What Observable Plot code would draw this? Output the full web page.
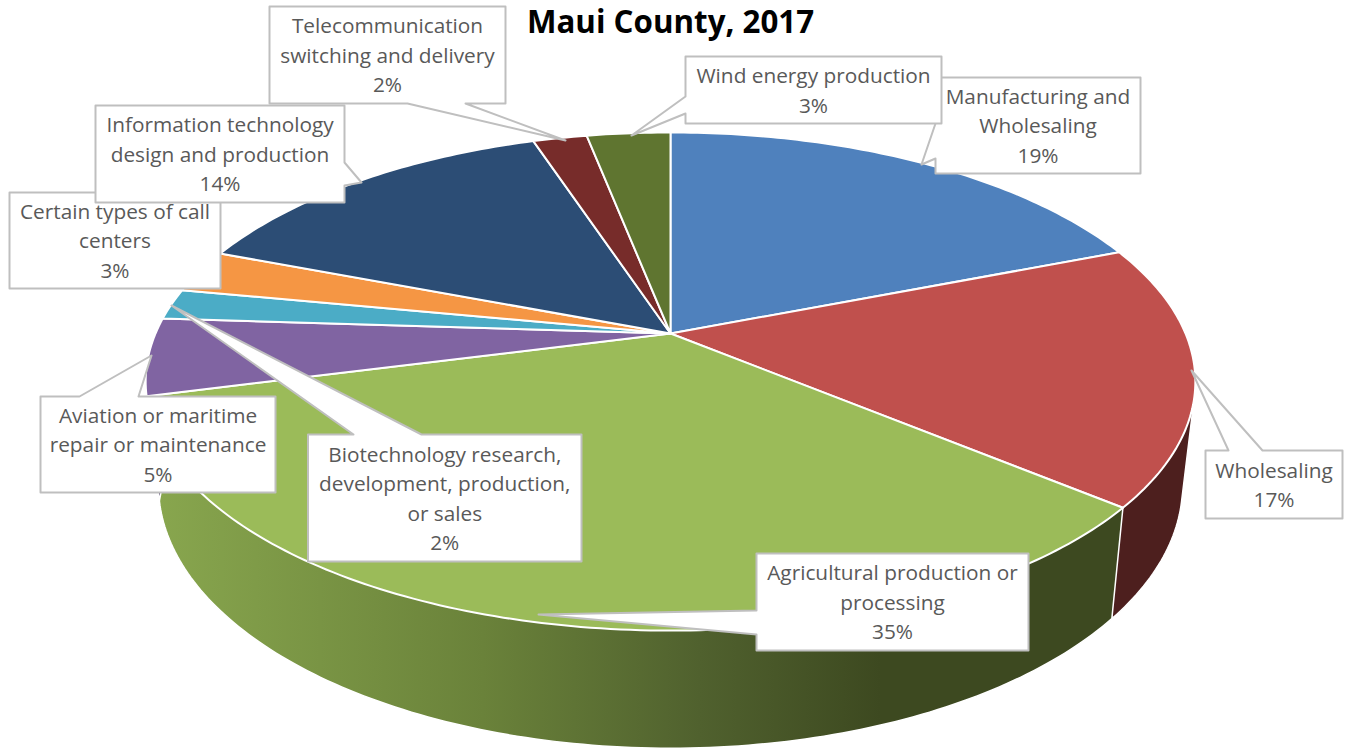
<!DOCTYPE html>
<html>
<head>
<meta charset="utf-8">
<script src="https://cdn.jsdelivr.net/npm/d3@7"></script>
<script src="https://cdn.jsdelivr.net/npm/@observablehq/plot@0.6"></script>
<style>
html,body{margin:0;padding:0;background:#fff;overflow:hidden}
</style>
</head>
<body>
<div id="chart"></div>
<script>
const chartTitle = "Maui County, 2017";
const categories = ["Manufacturing and\nWholesaling","Wholesaling","Agricultural production or\nprocessing","Aviation or maritime\nrepair or maintenance","Biotechnology research,\ndevelopment, production,\nor sales","Certain types of call\ncenters","Information technology\ndesign and production","Telecommunication\nswitching and delivery","Wind energy production"];
const shares = [19.1,16.9,35,5,2,2.8,14.1,2,3.1];
const topColors = ["#4f81bd","#c0504d","#9bbb59","#8064a2","#4bacc6","#f59644","#2c4d75","#772c2a","#5f7530"];
const sideColors = ["#2a4466","#4d1f1e","url(#sideGreen)","#40305a","#2a5f6d","#86501f","#182a40","#401817","#33401a"];

// perspective model of the disc (layout, not data)
const persp = -0.1928;
const topPlane = {cx:670, cy:333, a:515, b:239.8};
const basePlane = {cx:670, cy:434.3, a:502.4, b:253};
const project = (pct, pl) => {
  const t = pct / 100 * 2 * Math.PI, X = Math.sin(t), Y = -Math.cos(t), w = 1 + persp * Y;
  return [pl.cx + pl.a * X / w, pl.cy + pl.b * Y / w];
};
const arc = (p0, p1, pl) => {
  const n = Math.max(2, Math.ceil((p1 - p0) * 4)), out = [];
  for (let i = 0; i <= n; i++) out.push(project(p0 + (p1 - p0) * i / n, pl));
  return out;
};
const starts = d3.cumsum([0, ...shares]);

// callout layout: box, then pointer [side, base a, base b, tip]
const boxes = [
 {i:0,x1:935,x2:1140,y1:77,y2:173,side:"left",a:158,b:123,tip:[921,164]},
 {i:1,x1:1205,x2:1342,y1:450,y2:518,side:"top",a:1228,b:1262,tip:[1191,370]},
 {i:2,x1:756,x2:1028,y1:553,y2:650,side:"left",a:634,b:610,tip:[538,614]},
 {i:3,x1:40,x2:275,y1:396,y2:492,side:"top",a:79,b:138,tip:[151,355]},
 {i:4,x1:307.5,x2:581,y1:434,y2:561,side:"top",a:353,b:421,tip:[171,305]},
 {i:5,x1:9,x2:220,y1:192,y2:288,side:null},
 {i:6,x1:95,x2:344,y1:105,y2:202,side:"right",a:162,b:185,tip:[361,182]},
 {i:7,x1:269,x2:505,y1:6,y2:103,side:"bottom",a:465,b:407,tip:[565,140]},
 {i:8,x1:685,x2:941,y1:56,y2:123,side:"left",a:113,b:96,tip:[631,135]}
];
const calloutPath = b => {
  const p = [];
  p.push([b.x1,b.y1]);
  if (b.side==="top") p.push([b.a,b.y1],b.tip,[b.b,b.y1]);
  p.push([b.x2,b.y1]);
  if (b.side==="right") p.push([b.x2,b.a],b.tip,[b.x2,b.b]);
  p.push([b.x2,b.y2]);
  if (b.side==="bottom") p.push([b.a,b.y2],b.tip,[b.b,b.y2]);
  p.push([b.x1,b.y2]);
  if (b.side==="left") p.push([b.x1,b.a],b.tip,[b.x1,b.b]);
  return p;
};

const fontFamily = "Open Sans";
const poly = (pts, o) => Plot.line(pts, {x:d=>d[0], y:d=>d[1], curve:"linear-closed", ...o});

const defs = () => {
  const ns = "http://www.w3.org/2000/svg";
  const d = document.createElementNS(ns,"defs");
  const g = document.createElementNS(ns,"linearGradient");
  g.setAttribute("id","sideGreen");
  g.setAttribute("gradientUnits","userSpaceOnUse");
  g.setAttribute("x1","157"); g.setAttribute("x2","880"); g.setAttribute("y1","0"); g.setAttribute("y2","0");
  [[0,"#88a64e"],[0.45,"#6a823a"],[0.75,"#50612e"],[1,"#3d4920"]].forEach(([o,c])=>{
    const s = document.createElementNS(ns,"stop");
    s.setAttribute("offset",o); s.setAttribute("stop-color",c); g.appendChild(s);
  });
  d.appendChild(g);
  return d;
};

const marks = [defs];
// side wall, front half only: the hull of a slice's top and base arcs gives the tangent silhouette
shares.forEach((v,i)=>{
  const p0 = starts[i], p1 = starts[i+1];
  if (p1 <= 25 || p0 >= 76) return;
  const pts = d3.polygonHull([...arc(p0,p1,topPlane), ...arc(p0,p1,basePlane)]);
  marks.push(poly(pts,{fill:sideColors[i],stroke:"white",strokeWidth:1.5}));
});
// top face
shares.forEach((v,i)=>{
  const pts = [[topPlane.cx,topPlane.cy], ...arc(starts[i],starts[i+1],topPlane)];
  marks.push(poly(pts,{fill:topColors[i],stroke:"white",strokeWidth:2}));
});
// callouts
boxes.forEach(b=>{
  marks.push(poly(calloutPath(b),{fill:"white",stroke:"#bfbfbf",strokeWidth:2}));
  marks.push(Plot.text([`${categories[b.i]}\n${Math.round(shares[b.i])}%`],{
    x:(b.x1+b.x2)/2, y:(b.y1+b.y2)/2-1.5, text:d=>d, fill:"#595959",
    fontFamily, fontSize:20.8, lineHeight:1.42, textAnchor:"middle", lineAnchor:"middle"
  }));
});
marks.push(Plot.text([chartTitle],{x:670,y:22,text:d=>d,fill:"#000",fontFamily,fontWeight:700,fontSize:31.3,textAnchor:"middle",lineAnchor:"middle"}));

document.getElementById("chart").appendChild(Plot.plot({
  width:1351,height:749,margin:0,
  x:{domain:[0,1351],range:[0,1351],axis:null},
  y:{domain:[0,749],range:[0,749],axis:null},
  style:{background:"#fff",fontFamily},
  marks
}));
</script>
</body>
</html>
